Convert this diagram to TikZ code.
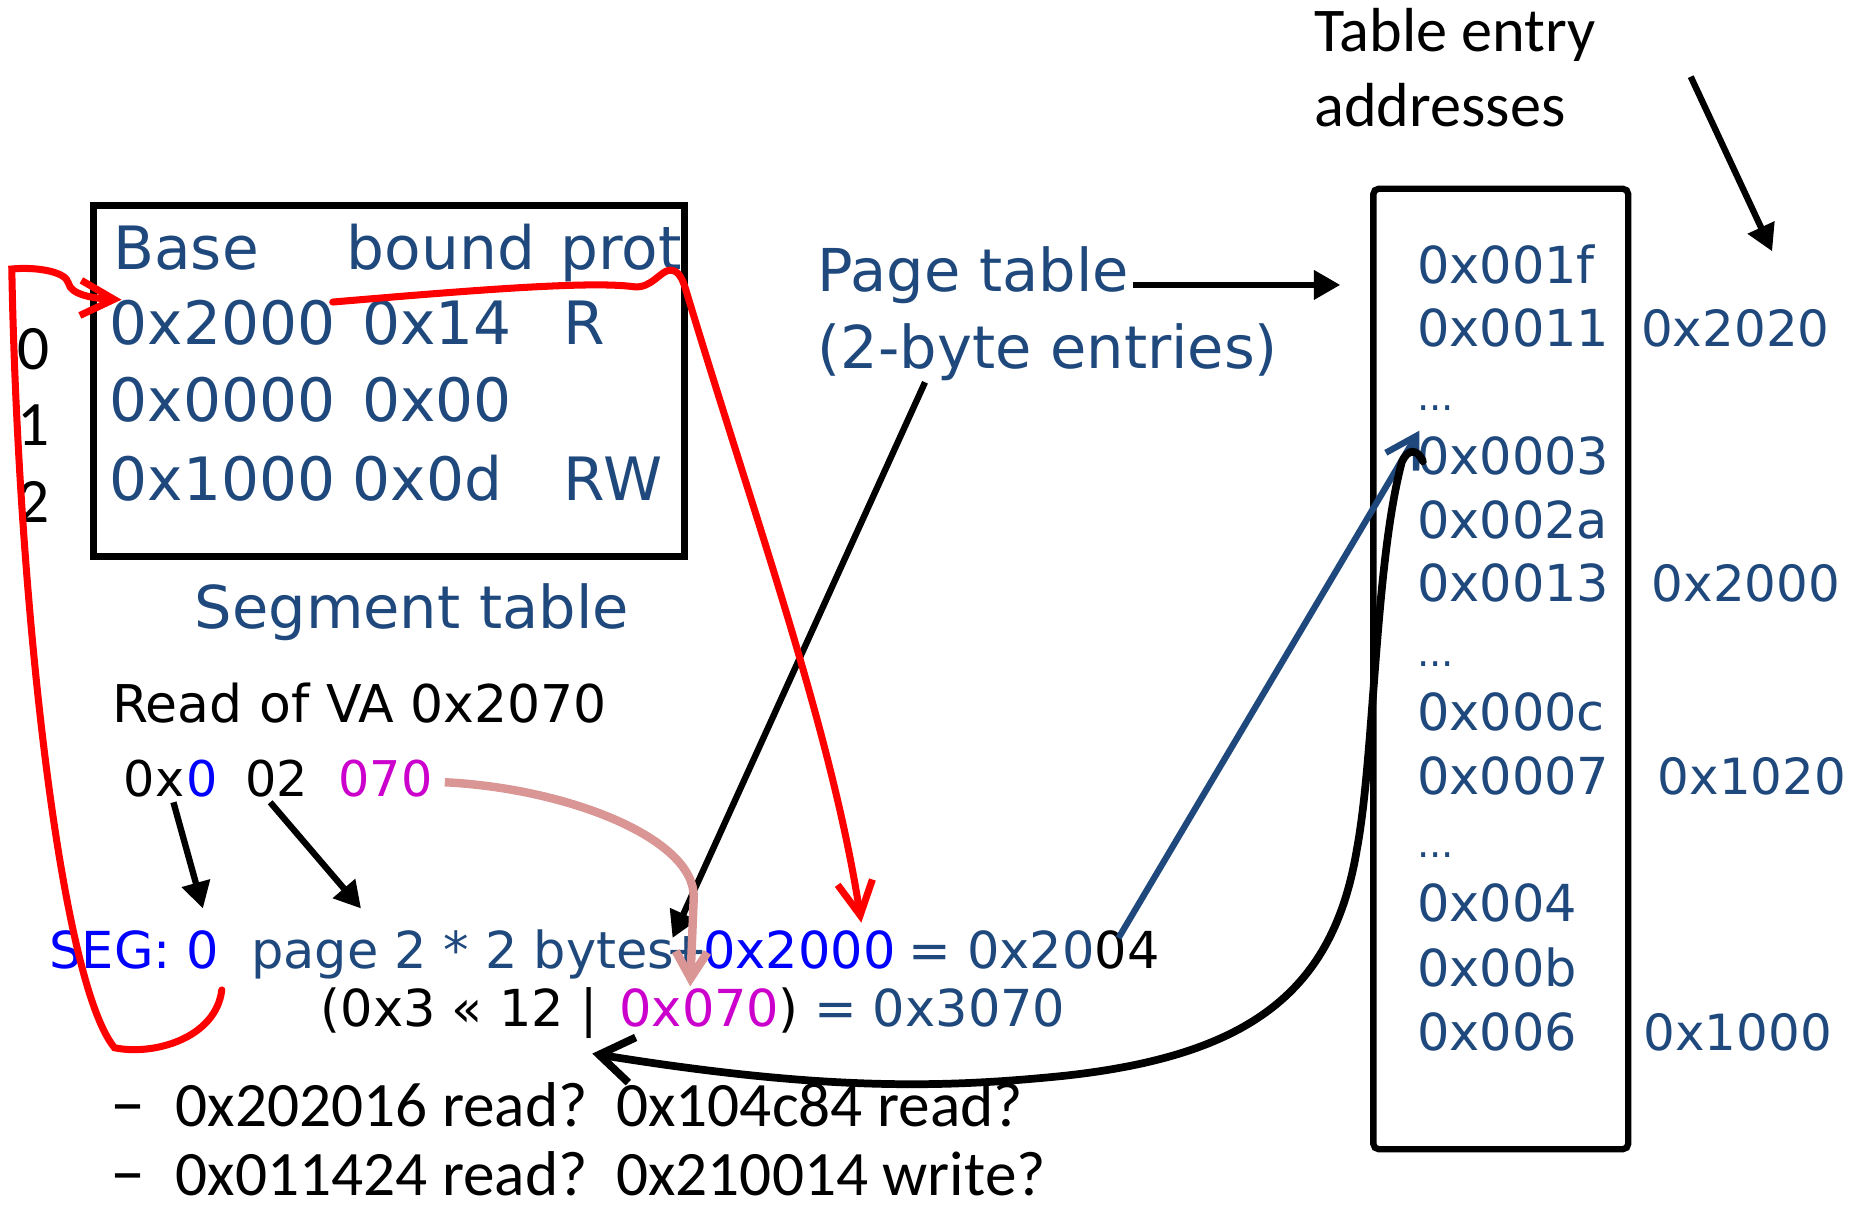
\documentclass[tikz,border=0pt]{standalone}
\usepackage{fontspec}
\setmainfont{DejaVu Sans}
\newfontfamily\calib{Carlito}
\usetikzlibrary{arrows.meta}

\definecolor{tblue}{HTML}{1F497D}
\definecolor{vblue}{HTML}{0000FF}
\definecolor{vmag}{HTML}{CC00CC}
\definecolor{vred}{HTML}{FF0000}
\definecolor{vpink}{HTML}{D99694}

\begin{document}
\begin{tikzpicture}[x=0.0118cm,y=-0.0118cm,
  txt/.style={anchor=base west, inner sep=0pt, outer sep=0pt},
  segtxt/.style={txt, text=tblue, font=\fontsize{17pt}{20pt}\selectfont},
  idx/.style={txt, font=\calib\fontsize{18pt}{21pt}\selectfont},
  calc/.style={txt, font=\fontsize{14.5pt}{17pt}\selectfont},
  vatxt/.style={txt, font=\fontsize{14pt}{17pt}\selectfont},
  label/.style={txt, text=tblue, font=\fontsize{16.8pt}{19pt}\selectfont},
  ptentry/.style={txt, text=tblue, font=\fontsize{14.5pt}{17pt}\selectfont},
  ptaddr/.style={txt, text=tblue, font=\fontsize{14.2pt}{17pt}\selectfont},
  ptdots/.style={txt, text=tblue, font=\fontsize{11pt}{13pt}\selectfont},
  question/.style={txt, font=\calib\fontsize{18pt}{21pt}\selectfont},
  bulletdash/.style={txt, font=\calib\fontsize{20pt}{22pt}\selectfont},
  boxline/.style={line width=2pt, line join=miter},
  blackarrow/.style={line width=1.8pt, -{Triangle[length=7.5pt,width=8pt]}},
  redarrow/.style={vred, line width=2pt, line cap=round, -{Straight Barb[length=9.5pt,width=10pt]}},
  bluearrow/.style={tblue, line width=1.8pt, -{Straight Barb[length=8.5pt,width=10pt]}},
  pinkarrow/.style={vpink, line width=2.4pt, -{Straight Barb[length=7.5pt,width=9pt]}},
  lookup/.style={line width=2.2pt, -{Straight Barb[length=9.5pt,width=13pt]}}
]
\fill[white] (0,0) rectangle (1568,1025);
\useasboundingbox (0,0) rectangle (1568,1025);

% ---------- segment table ----------
\draw[boxline] (79,174) rectangle (580,472);
\node[segtxt] (hbase)  at (96,228)  {Base};
\node[segtxt] (hbound) at (294,228) {bound};
\node[segtxt] (hprot)  at (475,228) {prot};
\node[segtxt] (b0) at (93,292)  {0x2000};
\node[segtxt] (l0) at (307,292) {0x14};
\node[segtxt] (p0) at (478,292) {R};
\node[segtxt] (b1) at (93,357)  {0x0000};
\node[segtxt] (l1) at (307,357) {0x00};
\node[segtxt] (b2) at (93,424)  {0x1000};
\node[segtxt] (l2) at (299,424) {0x0d};
\node[segtxt] (p2) at (478,424) {RW};
\node[idx] (i0) at (15,313) {0};
\node[idx] (i1) at (15,378) {1};
\node[idx] (i2) at (15,443) {2};
\node[txt, text=tblue, font=\fontsize{16.8pt}{19pt}\selectfont] (segcap) at (165,533) {Segment table};

% ---------- virtual address split ----------
\node[txt, font=\fontsize{14.8pt}{17pt}\selectfont] (va) at (95,612) {Read of VA 0x2070};
\node[vatxt] (vx)   at (105,675) {0x};
\node[vatxt, text=vblue] (vseg) at (158,675) {0};
\node[vatxt] (vpage) at (208,675) {02};
\node[vatxt, text=vmag] (voff) at (287,675) {070};

% ---------- address computation ----------
\node[calc, text=vblue] (seg)   at (42,821)  {SEG: 0};
\node[calc, text=tblue] (page)  at (213,821) {page 2 * 2 bytes};
\node[calc, text=tblue] (plus)  at (564,821) {+};
\node[calc, text=vblue] (base)  at (596,821) {0x2000};
\node[calc, text=tblue] (eq)    at (770,821) {= 0x20};
\node[calc] (eqtail) at (eq.base east) {04};
\node[calc] (shift)  at (272,870) {(0x3 « 12 |};
\node[calc, text=vmag] (off) at (525,870) {0x070};
\node[calc] (close)  at (660,870) {)};
\node[calc, text=tblue] (pa) at (690,870) {= 0x3070};

% ---------- exercises ----------
\node[bulletdash] (d1) at (94,955)  {–};
\node[question] (q1) at (149,955) {0x202016 read?\ \ 0x104c84 read?};
\node[bulletdash] (d2) at (94,1013) {–};
\node[question] (q2) at (149,1013) {0x011424 read?\ \ 0x210014 write?};

% ---------- page table ----------
\node[label] (ptl1) at (693,247) {Page table};
\node[label] (ptl2) at (693,312) {(2-byte entries)};
\node[txt, font=\calib\fontsize{17.7pt}{21pt}\selectfont] (tea1) at (1114,44) {Table entry};
\node[txt, font=\calib\fontsize{17.7pt}{21pt}\selectfont] (tea2) at (1114,107) {addresses};

\draw[line width=1.8pt, rounded corners=1.5pt] (1164,160) rectangle (1380,974);
\node[ptentry] (e0)  at (1201,240) {0x001f};
\node[ptentry] (e1)  at (1201,294) {0x0011};
\node[ptdots]  (g0)  at (1201,348) {...};
\node[ptentry] (e3)  at (1201,402) {0x0003};
\node[ptentry] (e4)  at (1201,456) {0x002a};
\node[ptentry] (e5)  at (1201,510) {0x0013};
\node[ptdots]  (g1)  at (1201,565) {...};
\node[ptentry] (e7)  at (1201,619) {0x000c};
\node[ptentry] (e8)  at (1201,673) {0x0007};
\node[ptdots]  (g2)  at (1201,727) {...};
\node[ptentry] (e10) at (1201,781) {0x004};
\node[ptentry] (e11) at (1201,836) {0x00b};
\node[ptentry] (e12) at (1201,890) {0x006};
\node[ptaddr] (a0) at (1391,294) {0x2020};
\node[ptaddr] (a1) at (1400,510) {0x2000};
\node[ptaddr] (a2) at (1405,673) {0x1020};
\node[ptaddr] (a3) at (1393,890) {0x1000};

% ---------- connector end points ----------
\coordinate (ptlout) at (960,241.5);
\coordinate (ptbox)  at (1136,241.5);
\coordinate (teaout) at (1433,65);
\coordinate (teain)  at (1502,213);
\coordinate (ptlbot) at (784,324);
\coordinate (pagein) at (570,795);
\coordinate (vsegout) at (147,680);
\coordinate (vsegin)  at (172,770);
\coordinate (vpageout) at (229,680);
\coordinate (vpagein)  at (306,770);
\coordinate (offout) at (377,663);
\coordinate (offin)  at (585,836);
\coordinate (segout) at (188,839);
\coordinate (basein) at (103,254);
\coordinate (baseout) at (282,256);
\coordinate (addin)  at (730,782);
\coordinate (pteout) at (948,795);
\coordinate (ptein)  at (1203,365);
\coordinate (frameout) at (1206,391);
\coordinate (framein)  at (502,893);

% ---------- connectors ----------
\draw[blackarrow] (ptlout) -- (ptbox);
\draw[blackarrow] (teaout) -- (teain);
\draw[blackarrow] (ptlbot) -- (pagein);
\draw[blackarrow] (vsegout) -- (vsegin);
\draw[blackarrow] (vpageout) -- (vpagein);

\draw[pinkarrow] (offout) .. controls (480,668) and (588,710) .. (588,760) -- (offin);

\draw[redarrow] (segout) .. controls (183,880) and (130,895) .. (97,888)
  .. controls (50,830) and (15,500) .. (10,228)
  .. controls (30,226) and (56,230) .. (58,240)
  .. controls (60,250) and (80,253) .. (basein);

\draw[redarrow] (baseout) .. controls (400,246) and (500,238) .. (537,243)
  .. controls (552,245) and (560,229) .. (568,229)
  .. controls (576,229) and (579,238) .. (582,248)
  .. controls (640,440) and (705,620) .. (addin);

\draw[bluearrow] (pteout) -- (ptein);

\draw[lookup, line cap=round] (frameout) .. controls (1201,380) and (1193,380) .. (1188,392)
  .. controls (1165,480) and (1165,640) .. (1150,720)
  .. controls (1130,840) and (1060,895) .. (900,912)
  .. controls (800,922) and (700,925) .. (framein);
\end{tikzpicture}
\end{document}
